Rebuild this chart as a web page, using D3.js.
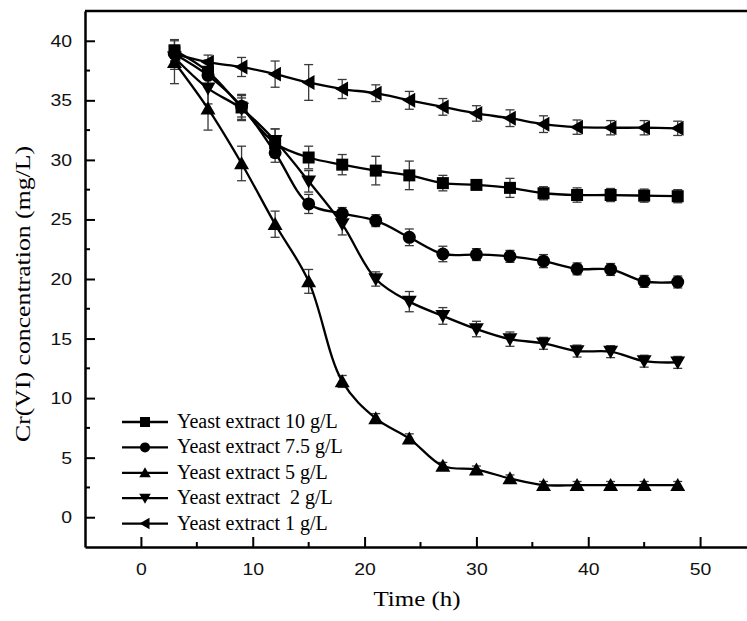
<!DOCTYPE html>
<html>
<head>
<meta charset="utf-8">
<script src="https://cdn.jsdelivr.net/npm/d3@7"></script>
<style>
  html, body { margin: 0; padding: 0; background: #fff; overflow: hidden; width: 747px; height: 621px; }
  svg { display: block; overflow: hidden; }
</style>
</head>
<body>
<svg id="chart" width="747" height="621"></svg>
<script>
// tijd in uren
const times = [3, 6, 9, 12, 15, 18, 21, 24, 27, 30, 33, 36, 39, 42, 45, 48];

// Cr(VI) waarden per gist-concentratie
const ye10 = [39.2, 37.4, 34.4, 31.4, 30.2, 29.6, 29.1, 28.7, 28.05, 27.9, 27.65, 27.2, 27.05, 27.05, 27.0, 26.95];
const ye75 = [38.9, 37.1, 34.5, 30.6, 26.3, 25.5, 24.9, 23.5, 22.1, 22.05, 21.9, 21.5, 20.85, 20.8, 19.8, 19.75];
const ye5 = [38.2, 34.3, 29.7, 24.6, 19.8, 11.4, 8.3, 6.6, 4.3, 4.0, 3.25, 2.7, 2.7, 2.7, 2.7, 2.7];
const ye2 = [38.6, 36.0, 34.3, 31.6, 28.2, 24.6, 20.0, 18.1, 16.9, 15.8, 14.95, 14.6, 13.95, 13.9, 13.1, 13.0];
const ye1 = [38.9, 38.2, 37.8, 37.2, 36.5, 35.95, 35.6, 35.0, 34.45, 33.9, 33.5, 33.0, 32.75, 32.7, 32.7, 32.65];

// foutmarges (sd)
const err10 = [0.9, 1.0, 1.1, 1.2, 0.95, 0.85, 1.2, 1.2, 0.65, 0.3, 0.8, 0.55, 0.6, 0.55, 0.55, 0.55];
const err75 = [0.6, 0.7, 0.9, 0.8, 0.8, 0.5, 0.5, 0.7, 0.65, 0.5, 0.5, 0.55, 0.5, 0.5, 0.5, 0.5];
const err5 = [1.8, 1.8, 1.45, 1.1, 1.0, 0.5, 0.4, 0.4, 0.3, 0.3, 0.3, 0.3, 0.3, 0.3, 0.3, 0.3];
const err2 = [1.0, 1.3, 0.9, 1.0, 0.9, 0.9, 0.6, 0.85, 0.7, 0.65, 0.6, 0.5, 0.5, 0.5, 0.5, 0.5];
const err1 = [0.7, 0.6, 0.8, 1.1, 1.5, 0.8, 0.7, 0.75, 0.7, 0.65, 0.7, 0.7, 0.6, 0.6, 0.6, 0.6];

const legendLabels = ["Yeast extract 10 g/L", "Yeast extract 7.5 g/L", "Yeast extract 5 g/L", "Yeast extract  2 g/L", "Yeast extract 1 g/L"];
const markerTypes = ["square", "circle", "up", "down", "left"];

const xTicks = [0, 10, 20, 30, 40, 50];
const xMinor = [5, 15, 25, 35, 45];
const yTicks = [0, 5, 10, 15, 20, 25, 30, 35, 40];
const yMinor = [2.5, 7.5, 12.5, 17.5, 22.5, 27.5, 32.5, 37.5];

const series = [
  { vals: ye10, err: err10 },
  { vals: ye75, err: err75 },
  { vals: ye5, err: err5 },
  { vals: ye2, err: err2 },
  { vals: ye1, err: err1 }
];

const plotLeft = 85, plotRight = 756, plotTop = 11, plotBottom = 547;

const svg = d3.select("#chart");

// alles binnen het beeld houden
svg.append("defs").append("clipPath").attr("id", "beeld")
  .append("rect").attr("x", 0).attr("y", 0).attr("width", 747).attr("height", 621);
const root = svg.append("g").attr("clip-path", "url(#beeld)");

const xScale = d3.scaleLinear().domain([-5, 55]).range([plotLeft, plotRight]);
const yScale = d3.scaleLinear().domain([-2.5, 42.5]).range([plotBottom, plotTop]);

// marker vormen
function markerPath(type, s) {
  const h = s / 2;
  if (type === "square") return `M${-h},${-h}H${h}V${h}H${-h}Z`;
  if (type === "circle") return `M${h},0A${h},${h} 0 1,1 ${-h},0A${h},${h} 0 1,1 ${h},0Z`;
  const w = h * 1.15;
  if (type === "up") return `M0,${-h * 1.1}L${w},${h * 0.9}L${-w},${h * 0.9}Z`;
  if (type === "down") return `M0,${h * 1.1}L${w},${-h * 0.9}L${-w},${-h * 0.9}Z`;
  return `M${-h * 1.1},0L${h * 0.9},${-w}L${h * 0.9},${w}Z`;
}

// legenda achtergrond
root.append("rect")
  .attr("x", 113).attr("y", 403).attr("width", 238).attr("height", 134)
  .attr("fill", "#fff");

const line = d3.line()
  .x((d, i) => xScale(times[i]))
  .y(d => yScale(d))
  .curve(d3.curveCatmullRom.alpha(0.5));

// foutbalken
series.forEach(s => {
  const g = root.append("g").attr("stroke", "#3a3a3a").attr("stroke-width", 1.3).attr("fill", "none");
  s.vals.forEach((v, i) => {
    const x = xScale(times[i]);
    const y1 = yScale(v + s.err[i]);
    const y2 = yScale(v - s.err[i]);
    g.append("line").attr("x1", x).attr("x2", x).attr("y1", y1).attr("y2", y2);
    g.append("line").attr("x1", x - 4.5).attr("x2", x + 4.5).attr("y1", y1).attr("y2", y1);
    g.append("line").attr("x1", x - 4.5).attr("x2", x + 4.5).attr("y1", y2).attr("y2", y2);
  });
});

// lijnen
series.forEach(s => {
  root.append("path")
    .datum(s.vals)
    .attr("d", line)
    .attr("fill", "none")
    .attr("stroke", "#000")
    .attr("stroke-width", 2.3);
});

// markers
series.forEach((s, k) => {
  root.append("g")
    .selectAll("path")
    .data(s.vals)
    .join("path")
    .attr("transform", (d, i) => `translate(${xScale(times[i])},${yScale(d)})`)
    .attr("d", markerPath(markerTypes[k], markerTypes[k] === "square" ? 12 : 13))
    .attr("fill", "#000");
});

// legenda
const legend = root.append("g");
legendLabels.forEach((lab, k) => {
  const cy = 422 + k * 25.4;
  legend.append("line")
    .attr("x1", 122).attr("x2", 168).attr("y1", cy).attr("y2", cy)
    .attr("stroke", "#000").attr("stroke-width", 2.3);
  legend.append("path")
    .attr("transform", `translate(145,${cy})`)
    .attr("d", markerPath(markerTypes[k], 10))
    .attr("fill", "#000");
  legend.append("text")
    .attr("x", 177).attr("y", cy + 6)
    .attr("font-family", "'Liberation Serif', 'Times New Roman', serif")
    .attr("font-size", 20)
    .style("white-space", "pre")
    .text(lab);
});

// bovenrand
root.append("line")
  .attr("x1", plotLeft).attr("x2", 747)
  .attr("y1", plotTop).attr("y2", plotTop)
  .attr("stroke", "#000").attr("stroke-width", 2.5);

// assen
const axisLeft = d3.axisLeft(yScale).tickValues(yTicks).tickSizeInner(-10).tickSizeOuter(0).tickPadding(13);
const axisBottom = d3.axisBottom(xScale).tickValues(xTicks).tickSizeInner(-10).tickSizeOuter(0).tickPadding(16);

const gy = root.append("g").attr("transform", `translate(${plotLeft},0)`).call(axisLeft);
const gx = root.append("g").attr("transform", `translate(0,${plotBottom})`).call(axisBottom);

gy.select(".domain").attr("stroke-width", 2.5);
gx.select(".domain").attr("stroke-width", 2.5);
root.selectAll(".tick line").attr("stroke-width", 2);

// kleine streepjes
root.append("g").selectAll("line")
  .data(yMinor)
  .join("line")
  .attr("x1", plotLeft).attr("x2", plotLeft + 5)
  .attr("y1", d => yScale(d)).attr("y2", d => yScale(d))
  .attr("stroke", "#000").attr("stroke-width", 2);
root.append("g").selectAll("line")
  .data(xMinor)
  .join("line")
  .attr("x1", d => xScale(d)).attr("x2", d => xScale(d))
  .attr("y1", plotBottom).attr("y2", plotBottom - 5)
  .attr("stroke", "#000").attr("stroke-width", 2);

[gx, gy].forEach(g => {
  g.selectAll("text")
    .attr("font-family", "'Liberation Sans', Arial, sans-serif")
    .attr("font-size", 17)
    .attr("fill", "#111")
    .attr("textLength", d => String(d).length * 10.8)
    .attr("lengthAdjust", "spacingAndGlyphs");
});

// aslabels
root.append("text")
  .attr("transform", "translate(30,294) rotate(-90)")
  .attr("text-anchor", "middle")
  .attr("font-family", "'Liberation Serif', 'Times New Roman', serif")
  .attr("font-size", 22)
  .attr("textLength", 296)
  .attr("lengthAdjust", "spacingAndGlyphs")
  .text("Cr(VI) concentration (mg/L)");

root.append("text")
  .attr("x", 417).attr("y", 606)
  .attr("text-anchor", "middle")
  .attr("font-family", "'Liberation Serif', 'Times New Roman', serif")
  .attr("font-size", 22)
  .attr("textLength", 87)
  .attr("lengthAdjust", "spacingAndGlyphs")
  .text("Time (h)");
</script>
</body>
</html>
